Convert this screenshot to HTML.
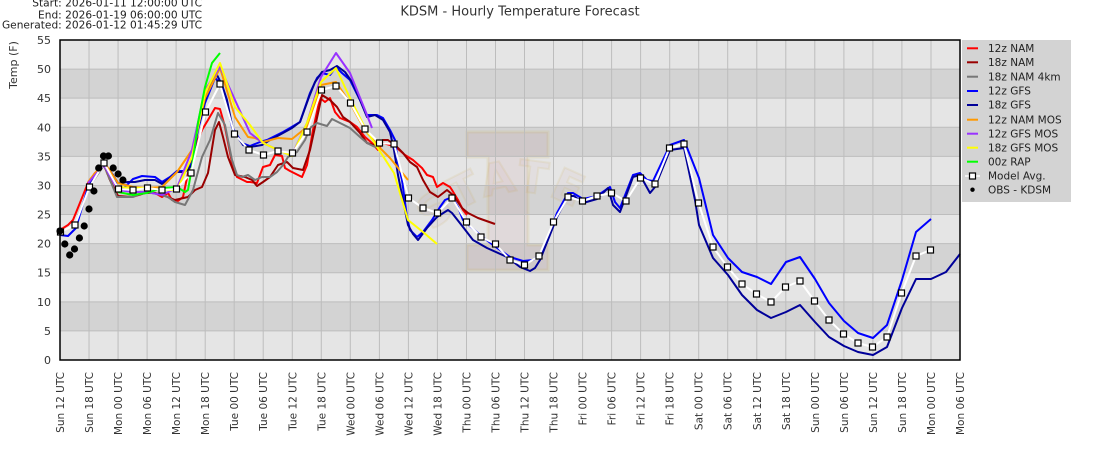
<!DOCTYPE html>
<html><head><meta charset="utf-8"><style>
html,body{margin:0;padding:0;background:#fff;}
svg{display:block;font-family:"DejaVu Sans","Liberation Sans",sans-serif;}
</style></head><body>
<svg width="1100" height="450" viewBox="0 0 1100 450" xmlns="http://www.w3.org/2000/svg">
<rect width="1100" height="450" fill="#fff"/>
<!-- header -->
<g font-size="10.6" fill="#222" text-anchor="end">
<text x="202" y="6.7">Start: 2026-01-11 12:00:00 UTC</text>
<text x="202" y="18.3">End: 2026-01-19 06:00:00 UTC</text>
<text x="202" y="28.3">Generated: 2026-01-12 01:45:29 UTC</text>
</g>
<text x="520" y="15.5" font-size="13" fill="#333" text-anchor="middle">KDSM - Hourly Temperature Forecast</text>
<!-- bands -->
<g>
<rect x="60" y="330.91" width="900" height="29.09" fill="#e5e5e5"/>
<rect x="60" y="301.82" width="900" height="29.09" fill="#d3d3d3"/>
<rect x="60" y="272.73" width="900" height="29.09" fill="#e5e5e5"/>
<rect x="60" y="243.64" width="900" height="29.09" fill="#d3d3d3"/>
<rect x="60" y="214.55" width="900" height="29.09" fill="#e5e5e5"/>
<rect x="60" y="185.45" width="900" height="29.09" fill="#d3d3d3"/>
<rect x="60" y="156.36" width="900" height="29.09" fill="#e5e5e5"/>
<rect x="60" y="127.27" width="900" height="29.09" fill="#d3d3d3"/>
<rect x="60" y="98.18" width="900" height="29.09" fill="#e5e5e5"/>
<rect x="60" y="69.09" width="900" height="29.09" fill="#d3d3d3"/>
<rect x="60" y="40" width="900" height="29.09" fill="#e5e5e5"/>
</g>
<!-- watermark -->
<path d="M467,132 H548 V157 H528 V245 H548 V270 H467 V245 H488 V157 H467 Z" fill="rgba(150,30,50,0.06)" stroke="rgba(205,175,70,0.14)" stroke-width="3"/>
<path id="arc" d="M432,232 Q520,150 612,236" fill="none" stroke="none"/>
<text font-size="44" font-weight="bold" fill="rgba(150,30,50,0.03)" stroke="rgba(205,175,70,0.12)" stroke-width="2" letter-spacing="2"><textPath href="#arc">STATE</textPath></text>
<!-- grid -->
<g stroke="#bdbdbd" stroke-width="1">
<line x1="60" x2="960" y1="330.91" y2="330.91"/><line x1="60" x2="960" y1="301.82" y2="301.82"/><line x1="60" x2="960" y1="272.73" y2="272.73"/><line x1="60" x2="960" y1="243.64" y2="243.64"/><line x1="60" x2="960" y1="214.55" y2="214.55"/><line x1="60" x2="960" y1="185.45" y2="185.45"/><line x1="60" x2="960" y1="156.36" y2="156.36"/><line x1="60" x2="960" y1="127.27" y2="127.27"/><line x1="60" x2="960" y1="98.18" y2="98.18"/><line x1="60" x2="960" y1="69.09" y2="69.09"/>
<line x1="89.03" x2="89.03" y1="40" y2="360"/><line x1="118.06" x2="118.06" y1="40" y2="360"/><line x1="147.1" x2="147.1" y1="40" y2="360"/><line x1="176.1" x2="176.1" y1="40" y2="360"/><line x1="205.2" x2="205.2" y1="40" y2="360"/><line x1="234.2" x2="234.2" y1="40" y2="360"/><line x1="263.2" x2="263.2" y1="40" y2="360"/><line x1="292.3" x2="292.3" y1="40" y2="360"/><line x1="321.3" x2="321.3" y1="40" y2="360"/><line x1="350.3" x2="350.3" y1="40" y2="360"/><line x1="379.4" x2="379.4" y1="40" y2="360"/><line x1="408.4" x2="408.4" y1="40" y2="360"/><line x1="437.4" x2="437.4" y1="40" y2="360"/><line x1="466.5" x2="466.5" y1="40" y2="360"/><line x1="495.5" x2="495.5" y1="40" y2="360"/><line x1="524.5" x2="524.5" y1="40" y2="360"/><line x1="553.5" x2="553.5" y1="40" y2="360"/><line x1="582.6" x2="582.6" y1="40" y2="360"/><line x1="611.6" x2="611.6" y1="40" y2="360"/><line x1="640.6" x2="640.6" y1="40" y2="360"/><line x1="669.7" x2="669.7" y1="40" y2="360"/><line x1="698.7" x2="698.7" y1="40" y2="360"/><line x1="727.7" x2="727.7" y1="40" y2="360"/><line x1="756.8" x2="756.8" y1="40" y2="360"/><line x1="785.8" x2="785.8" y1="40" y2="360"/><line x1="814.8" x2="814.8" y1="40" y2="360"/><line x1="843.9" x2="843.9" y1="40" y2="360"/><line x1="872.9" x2="872.9" y1="40" y2="360"/><line x1="901.9" x2="901.9" y1="40" y2="360"/><line x1="931" x2="931" y1="40" y2="360"/>
</g>
<!-- series -->
<g fill="none" stroke-width="2" stroke-linejoin="round">
<polyline stroke="#ff0000" points="60,230 68,225 73,220 88,183 95,173 104,165 110,180 118,197 132,197 142,193 155,193 162,197 168,193 172,200 178,201 183,197 188,173 195,147 202,130 208,120 215,108 220,109 225,127 232,163 237,177 247,182 250,182 257,183 263,167 270,165 275,155 282,156 285,168 290,171 302,177 307,165 313,130 320,98 325,102 330,98 335,112 340,118 350,122 357,127 365,137 372,143 378,150 383,143 390,145 397,148 405,155 413,160 422,168 427,175 433,177 437,187 443,183 450,187 452,190 458,200 463,210 467,215"/>
<polyline stroke="#990000" points="89,183 95,175 104,165 110,180 118,196 132,197 145,193 155,193 165,196 175,200 188,197 195,190 202,187 208,173 215,130 219,122 223,137 228,157 235,175 245,177 252,180 257,186 263,182 270,177 278,165 287,162 293,168 303,170 310,150 315,127 322,95 330,100 337,107 343,117 350,122 360,133 367,143 373,145 383,140 388,140 397,147 403,153 410,162 417,167 423,180 430,192 438,197 447,190 453,195 462,208 468,213 478,218 495,224"/>
<polyline stroke="#777777" points="89,187 104,165 117,197 133,197 145,192 158,194 168,197 175,202 185,205 193,190 202,157 210,140 218,113 225,125 232,160 237,175 242,177 248,175 255,180 262,177 270,177 277,172 283,165 288,157 297,152 305,140 310,128 317,123 327,126 332,119 340,123 350,128 360,137 367,143 373,146 379,148"/>
<polyline stroke="#0000ff" points="60,235 68,236 76,228 88,187 104,163 113,175 118,190 125,187 133,179 142,176 155,177 162,182 170,177 177,171 185,171 192,163 198,130 205,103 215,78 220,83 225,95 232,127 242,143 250,146 260,142 267,140 273,137 283,132 290,128 300,122 310,93 317,78 322,73 330,75 336,67 342,73 350,80 360,100 367,115 377,115 383,118 390,130 395,140 398,163 402,180 407,217 410,230 417,237 423,232 432,220 440,207 445,200 452,197 458,207 463,220 480,235 493,245 510,257 523,261 533,260 542,253 557,213 568,193 573,193 583,199 597,196 610,187 615,202 620,208 633,175 640,173 647,180 653,181 670,145 684,140 699,178 713,235 728,258 742,272 757,277 771,284 786,262 800,257 815,279 829,303 844,321 858,333 873,338 887,325 902,280 916,232 931,219"/>
<polyline stroke="#000099" points="89,187 104,163 113,175 118,183 128,182 135,182 145,180 155,180 162,184 170,178 177,172 185,172 192,165 198,128 205,100 212,82 217,75 222,85 227,100 233,130 243,145 250,147 262,145 270,140 283,133 292,128 300,122 309,97 315,82 322,72 330,70 337,66 345,72 352,82 360,100 367,117 375,115 383,120 390,132 394,150 398,175 403,200 408,225 413,234 418,240 427,228 437,217 448,210 452,213 463,227 473,240 487,248 507,257 520,267 530,271 535,268 540,260 557,217 568,196 574,196 583,203 597,199 608,188 613,205 620,212 633,177 640,175 650,193 655,187 670,150 684,148 695,200 699,225 713,258 728,275 742,295 757,310 771,318 786,312 800,305 815,322 829,337 844,346 858,352 873,355 887,347 902,308 916,279 931,279 946,272 960,254"/>
<polyline stroke="#ff9900" points="88,182 104,162 118,183 133,187 147,188 162,187 177,172 192,150 205,98 220,68 235,117 248,137 255,138 263,142 278,138 292,139 307,127 321,85 336,82 350,103 365,130 379,147 390,158 408,180"/>
<polyline stroke="#9933ff" points="88,183 104,165 118,190 133,192 147,192 162,195 177,188 192,150 205,90 220,67 235,100 250,133 263,143 278,150 292,155 307,123 321,77 336,53 350,73 365,110 372,128"/>
<polyline stroke="#ffff00" points="118,187 133,188 147,188 162,190 177,190 192,157 205,93 220,63 235,107 250,125 263,143 278,150 292,156 307,123 321,82 336,68 350,98 365,128 379,150 394,173 408,220 423,232 437,244"/>
<polyline stroke="#00ff00" points="118,192 133,195 147,193 162,188 177,187 185,192 188,190 192,167 198,123 205,87 212,63 220,53"/>
<polyline stroke="#ffffff" points="60.5,232 75,225 89.5,187 104,163 118.5,189 133,190 147.5,188 162,190 176.5,189 191,173 205.5,112 220,84 234.5,134 249,150 263.5,155 278,151 292.5,153 307,132 321.5,90 336,86 350.5,103 365,129 379.5,143 394,144 408.5,198 423,208 437.5,213 452,198 466.5,222 481,237 495.5,244 510,260 524.5,265 539,256 553.5,222 568,197 582.5,201 597,196 611.5,193 626,201 640.5,178 655,184 669.5,148 684,144 698.5,203 713,247 727.5,267 742,284 756.5,294 771,302 785.5,287 800,281 814.5,301 829,320 843.5,334 858,343 872.5,347 887,337 901.5,293 916,256 930.5,250"/>
</g>
<!-- squares -->
<g fill="#fff" stroke="#000" stroke-width="1.2">
<rect x="57.5" y="229" width="6" height="6"/><rect x="72" y="222" width="6" height="6"/><rect x="86.5" y="184" width="6" height="6"/><rect x="101" y="160" width="6" height="6"/><rect x="115.5" y="186" width="6" height="6"/><rect x="130" y="187" width="6" height="6"/><rect x="144.5" y="185" width="6" height="6"/><rect x="159" y="187" width="6" height="6"/><rect x="173.5" y="186" width="6" height="6"/><rect x="188" y="170" width="6" height="6"/><rect x="202.5" y="109" width="6" height="6"/><rect x="217" y="81" width="6" height="6"/><rect x="231.5" y="131" width="6" height="6"/><rect x="246" y="147" width="6" height="6"/><rect x="260.5" y="152" width="6" height="6"/><rect x="275" y="148" width="6" height="6"/><rect x="289.5" y="150" width="6" height="6"/><rect x="304" y="129" width="6" height="6"/><rect x="318.5" y="87" width="6" height="6"/><rect x="333" y="83" width="6" height="6"/><rect x="347.5" y="100" width="6" height="6"/><rect x="362" y="126" width="6" height="6"/><rect x="376.5" y="140" width="6" height="6"/><rect x="391" y="141" width="6" height="6"/><rect x="405.5" y="195" width="6" height="6"/><rect x="420" y="205" width="6" height="6"/><rect x="434.5" y="210" width="6" height="6"/><rect x="449" y="195" width="6" height="6"/><rect x="463.5" y="219" width="6" height="6"/><rect x="478" y="234" width="6" height="6"/><rect x="492.5" y="241" width="6" height="6"/><rect x="507" y="257" width="6" height="6"/><rect x="521.5" y="262" width="6" height="6"/><rect x="536" y="253" width="6" height="6"/><rect x="550.5" y="219" width="6" height="6"/><rect x="565" y="194" width="6" height="6"/><rect x="579.5" y="198" width="6" height="6"/><rect x="594" y="193" width="6" height="6"/><rect x="608.5" y="190" width="6" height="6"/><rect x="623" y="198" width="6" height="6"/><rect x="637.5" y="175" width="6" height="6"/><rect x="652" y="181" width="6" height="6"/><rect x="666.5" y="145" width="6" height="6"/><rect x="681" y="141" width="6" height="6"/><rect x="695.5" y="200" width="6" height="6"/><rect x="710" y="244" width="6" height="6"/><rect x="724.5" y="264" width="6" height="6"/><rect x="739" y="281" width="6" height="6"/><rect x="753.5" y="291" width="6" height="6"/><rect x="768" y="299" width="6" height="6"/><rect x="782.5" y="284" width="6" height="6"/><rect x="797" y="278" width="6" height="6"/><rect x="811.5" y="298" width="6" height="6"/><rect x="826" y="317" width="6" height="6"/><rect x="840.5" y="331" width="6" height="6"/><rect x="855" y="340" width="6" height="6"/><rect x="869.5" y="344" width="6" height="6"/><rect x="884" y="334" width="6" height="6"/><rect x="898.5" y="290" width="6" height="6"/><rect x="913" y="253" width="6" height="6"/><rect x="927.5" y="247" width="6" height="6"/>
</g>
<!-- obs -->
<g fill="#000">
<circle cx="60" cy="231" r="3.6"/><circle cx="64.8" cy="244" r="3.6"/><circle cx="69.7" cy="255" r="3.6"/><circle cx="74.5" cy="249" r="3.6"/><circle cx="79.4" cy="238" r="3.6"/><circle cx="84.2" cy="226" r="3.6"/><circle cx="89" cy="209" r="3.6"/><circle cx="93.9" cy="191" r="3.6"/><circle cx="98.7" cy="168" r="3.6"/><circle cx="103.5" cy="156" r="3.6"/><circle cx="108.4" cy="156" r="3.6"/><circle cx="113.2" cy="168" r="3.6"/><circle cx="118.1" cy="174" r="3.6"/><circle cx="122.9" cy="180" r="3.6"/>
</g>
<!-- frame -->
<rect x="60" y="40" width="900" height="320" fill="none" stroke="#000" stroke-width="1.5"/>
<!-- y labels -->
<g font-size="11" fill="#333" text-anchor="end">
<text x="51" y="364">0</text><text x="51" y="334.9">5</text><text x="51" y="305.8">10</text><text x="51" y="276.7">15</text><text x="51" y="247.6">20</text><text x="51" y="218.5">25</text><text x="51" y="189.5">30</text><text x="51" y="160.4">35</text><text x="51" y="131.3">40</text><text x="51" y="102.2">45</text><text x="51" y="73.1">50</text><text x="51" y="44">55</text>
</g>
<text transform="translate(17,65) rotate(-90)" font-size="11" fill="#333" text-anchor="middle">Temp (F)</text>
<!-- x labels -->
<g font-size="10.5" fill="#333" text-anchor="end">
<text transform="translate(64,372) rotate(-90)">Sun 12 UTC</text>
<text transform="translate(93,372) rotate(-90)">Sun 18 UTC</text>
<text transform="translate(122.1,372) rotate(-90)">Mon 00 UTC</text>
<text transform="translate(151.1,372) rotate(-90)">Mon 06 UTC</text>
<text transform="translate(180.1,372) rotate(-90)">Mon 12 UTC</text>
<text transform="translate(209.2,372) rotate(-90)">Mon 18 UTC</text>
<text transform="translate(238.2,372) rotate(-90)">Tue 00 UTC</text>
<text transform="translate(267.2,372) rotate(-90)">Tue 06 UTC</text>
<text transform="translate(296.3,372) rotate(-90)">Tue 12 UTC</text>
<text transform="translate(325.3,372) rotate(-90)">Tue 18 UTC</text>
<text transform="translate(354.3,372) rotate(-90)">Wed 00 UTC</text>
<text transform="translate(383.4,372) rotate(-90)">Wed 06 UTC</text>
<text transform="translate(412.4,372) rotate(-90)">Wed 12 UTC</text>
<text transform="translate(441.4,372) rotate(-90)">Wed 18 UTC</text>
<text transform="translate(470.5,372) rotate(-90)">Thu 00 UTC</text>
<text transform="translate(499.5,372) rotate(-90)">Thu 06 UTC</text>
<text transform="translate(528.5,372) rotate(-90)">Thu 12 UTC</text>
<text transform="translate(557.5,372) rotate(-90)">Thu 18 UTC</text>
<text transform="translate(586.6,372) rotate(-90)">Fri 00 UTC</text>
<text transform="translate(615.6,372) rotate(-90)">Fri 06 UTC</text>
<text transform="translate(644.6,372) rotate(-90)">Fri 12 UTC</text>
<text transform="translate(673.7,372) rotate(-90)">Fri 18 UTC</text>
<text transform="translate(702.7,372) rotate(-90)">Sat 00 UTC</text>
<text transform="translate(731.7,372) rotate(-90)">Sat 06 UTC</text>
<text transform="translate(760.8,372) rotate(-90)">Sat 12 UTC</text>
<text transform="translate(789.8,372) rotate(-90)">Sat 18 UTC</text>
<text transform="translate(818.8,372) rotate(-90)">Sun 00 UTC</text>
<text transform="translate(847.9,372) rotate(-90)">Sun 06 UTC</text>
<text transform="translate(876.9,372) rotate(-90)">Sun 12 UTC</text>
<text transform="translate(905.9,372) rotate(-90)">Sun 18 UTC</text>
<text transform="translate(935,372) rotate(-90)">Mon 00 UTC</text>
<text transform="translate(964,372) rotate(-90)">Mon 06 UTC</text>
</g>
<!-- legend -->
<rect x="962" y="40" width="109" height="162" fill="#d3d3d3"/>
<g stroke-width="2">
<line x1="967" x2="978" y1="48.3" y2="48.3" stroke="#ff0000"/>
<line x1="967" x2="978" y1="62.3" y2="62.3" stroke="#990000"/>
<line x1="967" x2="978" y1="76.7" y2="76.7" stroke="#777777"/>
<line x1="967" x2="978" y1="91" y2="91" stroke="#0000ff"/>
<line x1="967" x2="978" y1="105" y2="105" stroke="#000099"/>
<line x1="967" x2="978" y1="119.7" y2="119.7" stroke="#ff9900"/>
<line x1="967" x2="978" y1="133.7" y2="133.7" stroke="#9933ff"/>
<line x1="967" x2="978" y1="147.7" y2="147.7" stroke="#ffff00"/>
<line x1="967" x2="978" y1="161.7" y2="161.7" stroke="#00ff00"/>
<line x1="965" x2="980" y1="176" y2="176" stroke="#ffffff" stroke-width="1.5"/>
</g>
<rect x="969.5" y="173" width="6" height="6" fill="#fff" stroke="#000" stroke-width="1.2"/>
<circle cx="972.5" cy="189.7" r="2.2" fill="#000"/>
<g font-size="10.5" fill="#222">
<text x="988" y="52">12z NAM</text>
<text x="988" y="66">18z NAM</text>
<text x="988" y="80.4">18z NAM 4km</text>
<text x="988" y="94.7">12z GFS</text>
<text x="988" y="108.7">18z GFS</text>
<text x="988" y="123.4">12z NAM MOS</text>
<text x="988" y="137.4">12z GFS MOS</text>
<text x="988" y="151.4">18z GFS MOS</text>
<text x="988" y="165.4">00z RAP</text>
<text x="988" y="179.7">Model Avg.</text>
<text x="988" y="193.4">OBS - KDSM</text>
</g>
</svg>
</body></html>
